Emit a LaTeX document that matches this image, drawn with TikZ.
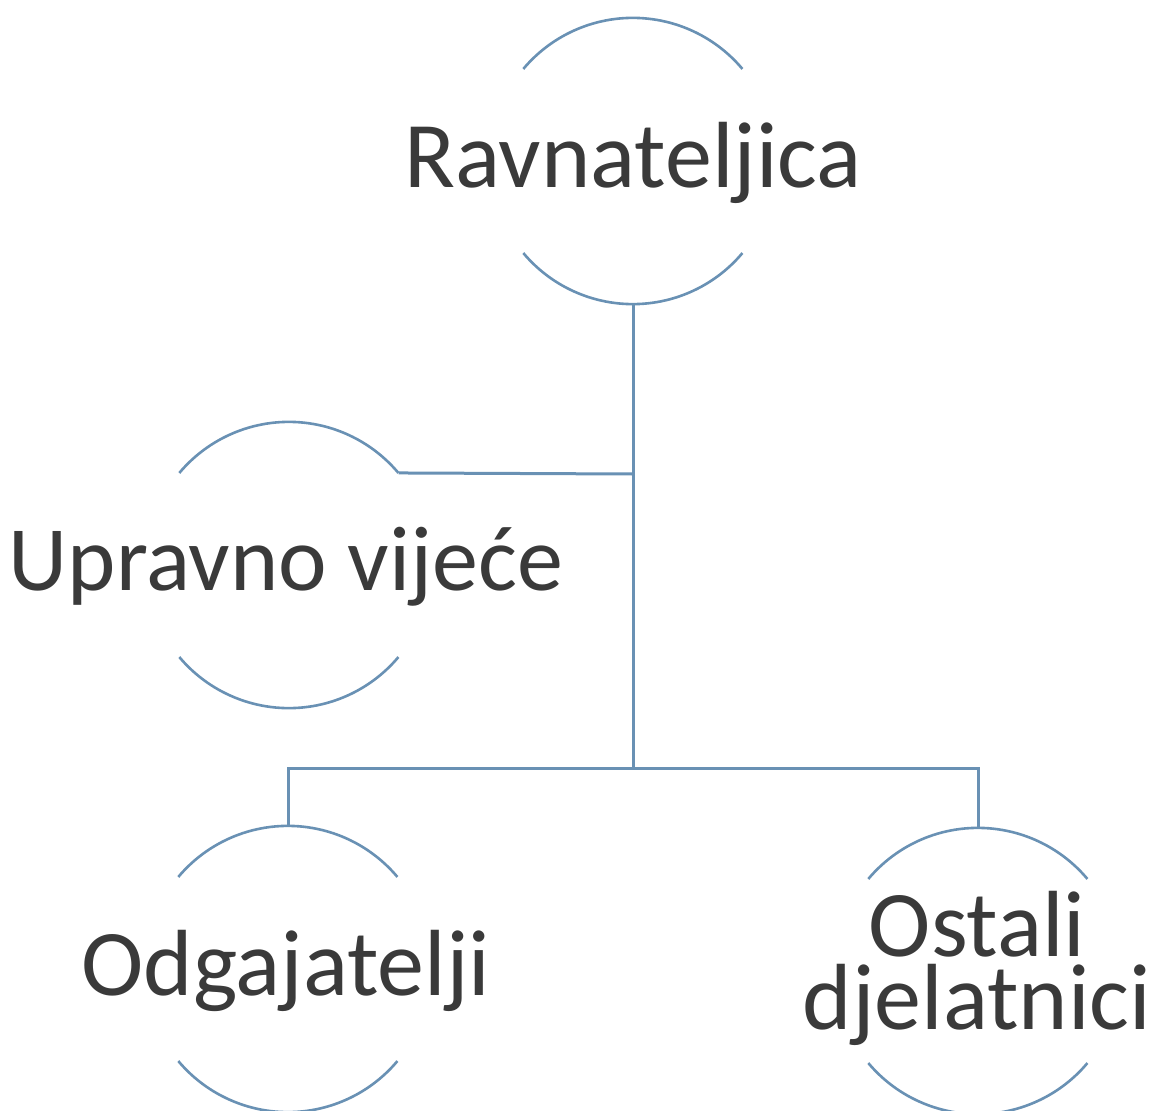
\documentclass[tikz,border=0pt]{standalone}
\usepackage{fontspec}
\setmainfont{Carlito}
\definecolor{lineblue}{RGB}{105,145,180}
\definecolor{txtgray}{RGB}{58,58,58}
\begin{document}
\begin{tikzpicture}[x=1pt,y=-1pt,
  ring/.style={circle,minimum size=286pt,inner sep=0pt,draw=none},
  lbl/.style={anchor=base,text=txtgray,font=\fontsize{94}{73}\selectfont,inner sep=0pt},
  arcline/.style={draw=lineblue,line width=2.6pt},
  conn/.style={draw=lineblue,line width=3pt}]
\useasboundingbox[fill=white] (0,0) rectangle (1155,1110);
% circles (invisible shapes; only top and bottom arcs are drawn)
\node[ring] (rav) at (633,161) {};
\node[ring] (upr) at (289,565) {};
\node[ring] (odg) at (288,969) {};
\node[ring] (ost) at (978,971) {};
\foreach \c in {rav,upr,odg,ost}{
  \draw[arcline] (\c.140) arc[start angle=140,end angle=40,radius=143pt];
  \draw[arcline] (\c.220) arc[start angle=220,end angle=320,radius=143pt];
}
% texts
\node[lbl] (travn) at (633,187) {Ravnateljica};
\node[lbl,font=\fontsize{92}{73}\selectfont] (tupr) at (286,590) {Upravno vijeće};
\node[lbl] (todg) at (286,995) {Odgajatelji};
\node[lbl,align=center] (tost) at (977,1029) {Ostali\\djelatnici};
% connectors
\coordinate (j1) at (633,474);
\coordinate (j2) at (633,768);
\draw[conn] (rav.south) -- (j2);
\draw[conn] (j1) -- (upr.40);
\draw[conn] (odg.north) |- (j2) -| (ost.north);
\end{tikzpicture}
\end{document}
